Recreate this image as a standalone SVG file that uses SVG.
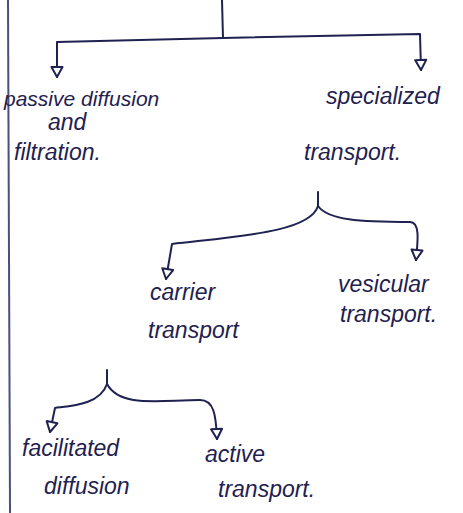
<svg xmlns="http://www.w3.org/2000/svg" width="463" height="513" viewBox="0 0 463 513">
<defs>
<style>
.c{fill:none;stroke:#1f2150;stroke-width:2;stroke-linecap:round;stroke-linejoin:round}
.t{font-family:"Liberation Sans",Arial,sans-serif;font-size:23px;fill:#1f2150;font-style:italic}
</style>
<marker id="a" viewBox="0 0 14 14" refX="12" refY="7" markerWidth="14" markerHeight="14" markerUnits="userSpaceOnUse" orient="auto">
<path d="M2,1.5 L12,7 L2,12.5 Z" fill="#fff" stroke="#1f2150" stroke-width="2" stroke-linejoin="round"/>
</marker>
</defs>
<rect width="463" height="513" fill="#fff"/>
<line x1="8" y1="0" x2="10" y2="513" stroke="#4a4f80" stroke-width="2"/>
<g id="connectors">
<path class="c" d="M222,0 L223,38"/>
<path class="c" d="M223,38 L57,42 L57,77" marker-end="url(#a)"/>
<path class="c" d="M223,38 L420,34 L421,70" marker-end="url(#a)"/>
<path class="c" d="M318,192 L318,206 C310,232 240,236 172,244 L166,279" marker-end="url(#a)"/>
<path class="c" d="M318,206 C328,220 360,222 410,222 C420,222 418,240 416,260" marker-end="url(#a)"/>
<path class="c" d="M107,370 L107,384 C100,405 70,406 55,408 L50,432" marker-end="url(#a)"/>
<path class="c" d="M107,384 C120,408 160,400 200,400 C214,400 216,415 217,439" marker-end="url(#a)"/>
</g>
<g id="n-passive"><text class="t" x="4" y="106" style="font-size:21px">passive diffusion</text><text class="t" x="48" y="130">and</text><text class="t" x="14" y="160">filtration.</text></g>
<g id="n-specialized"><text class="t" x="326" y="104">specialized</text><text class="t" x="304" y="160">transport.</text></g>
<g id="n-carrier"><text class="t" x="150" y="300">carrier</text><text class="t" x="148" y="338">transport</text></g>
<g id="n-vesicular"><text class="t" x="338" y="292">vesicular</text><text class="t" x="340" y="322">transport.</text></g>
<g id="n-facilitated"><text class="t" x="22" y="456">facilitated</text><text class="t" x="44" y="494">diffusion</text></g>
<g id="n-active"><text class="t" x="205" y="462">active</text><text class="t" x="218" y="497">transport.</text></g>
</svg>
